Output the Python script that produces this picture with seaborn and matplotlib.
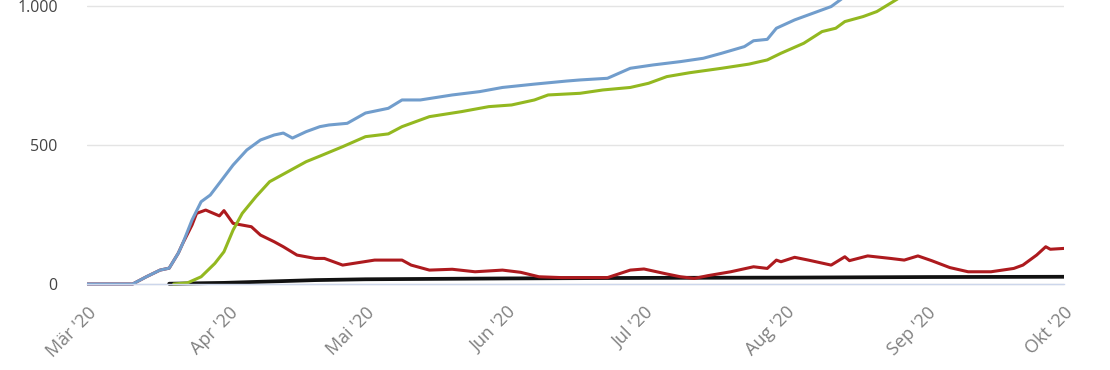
import pandas as pd
import matplotlib
matplotlib.use("Agg")
import matplotlib.pyplot as plt
import matplotlib.dates as mdates
from matplotlib.ticker import FuncFormatter
import seaborn as sns

# Werte (kumuliert, aktiv, genesen, verstorben)
faelle_datum = ["2020-03-01", "2020-03-11", "2020-03-14", "2020-03-17", "2020-03-19", "2020-03-21",
                "2020-03-22", "2020-03-24", "2020-03-26", "2020-03-28", "2020-03-30", "2020-04-02",
                "2020-04-05", "2020-04-08", "2020-04-11", "2020-04-13", "2020-04-15", "2020-04-18",
                "2020-04-21", "2020-04-23", "2020-04-27", "2020-05-01", "2020-05-06", "2020-05-09",
                "2020-05-13", "2020-05-20", "2020-05-26", "2020-05-31", "2020-06-07", "2020-06-14",
                "2020-06-17", "2020-06-23", "2020-06-28", "2020-07-03", "2020-07-09", "2020-07-14",
                "2020-07-18", "2020-07-23", "2020-07-25", "2020-07-28", "2020-07-30", "2020-08-03",
                "2020-08-08", "2020-08-11", "2020-08-13", "2020-08-16"]
faelle = [0, 0, 26, 50, 57, 111, 147, 230, 296, 320, 363, 428, 482, 518, 536, 543, 525, 548,
          566, 572, 578, 615, 632, 662, 662, 680, 692, 707, 719, 730, 734, 740, 776, 788, 800,
          812, 830, 854, 875, 880, 920, 950, 980, 998, 1022, 1060]

genesen_datum = ["2020-03-20", "2020-03-23", "2020-03-26", "2020-03-29", "2020-03-31", "2020-04-02",
                 "2020-04-04", "2020-04-07", "2020-04-10", "2020-04-14", "2020-04-18", "2020-04-21",
                 "2020-04-26", "2020-05-01", "2020-05-06", "2020-05-09", "2020-05-15", "2020-05-22",
                 "2020-05-28", "2020-06-02", "2020-06-07", "2020-06-10", "2020-06-17", "2020-06-22",
                 "2020-06-28", "2020-07-02", "2020-07-06", "2020-07-11", "2020-07-18", "2020-07-24",
                 "2020-07-28", "2020-07-31", "2020-08-05", "2020-08-09", "2020-08-12", "2020-08-14",
                 "2020-08-18", "2020-08-21", "2020-08-24", "2020-08-27"]
genesen = [0, 4, 26, 74, 116, 194, 254, 314, 368, 404, 440, 460, 494, 530, 540, 566, 602, 620,
           638, 644, 662, 680, 686, 698, 707, 722, 746, 760, 776, 791, 806, 830, 866, 908, 920,
           944, 962, 980, 1010, 1040]

aktiv_datum = ["2020-03-01", "2020-03-11", "2020-03-14", "2020-03-17", "2020-03-19", "2020-03-21",
               "2020-03-22", "2020-03-24", "2020-03-25", "2020-03-27", "2020-03-29", "2020-03-30",
               "2020-03-31", "2020-04-02", "2020-04-06", "2020-04-08", "2020-04-11", "2020-04-13",
               "2020-04-16", "2020-04-20", "2020-04-22", "2020-04-26", "2020-05-03", "2020-05-09",
               "2020-05-11", "2020-05-15", "2020-05-20", "2020-05-25", "2020-05-31", "2020-06-04",
               "2020-06-08", "2020-06-13", "2020-06-23", "2020-06-28", "2020-07-01", "2020-07-06",
               "2020-07-09", "2020-07-12", "2020-07-15", "2020-07-20", "2020-07-25", "2020-07-28",
               "2020-07-30", "2020-07-31", "2020-08-03", "2020-08-06", "2020-08-11", "2020-08-14",
               "2020-08-15", "2020-08-19", "2020-08-24", "2020-08-27", "2020-08-30", "2020-09-02",
               "2020-09-06", "2020-09-10", "2020-09-15", "2020-09-20", "2020-09-22", "2020-09-25",
               "2020-09-27", "2020-09-28", "2020-10-01"]
aktiv = [0, 0, 26, 50, 57, 111, 147, 212, 254, 266, 252, 245, 264, 218, 206, 176, 152, 134,
         104, 92, 92, 68, 86, 86, 68, 50, 53, 44, 50, 42, 26, 23, 23, 50, 54, 36, 26, 20, 30,
         44, 62, 56, 86, 80, 96, 86, 68, 98, 84, 101, 92, 86, 101, 84, 59, 44, 44, 56, 68, 104,
         134, 125, 128]

tote_datum = ["2020-03-19", "2020-03-31", "2020-04-10", "2020-04-20", "2020-05-01", "2020-06-01",
              "2020-07-01", "2020-08-01", "2020-09-01", "2020-10-01"]
tote = [1, 4, 9, 14, 17, 20, 22, 23, 25, 26]

monate = ["Jan", "Feb", "Mär", "Apr", "Mai", "Jun", "Jul", "Aug", "Sep", "Okt", "Nov", "Dez"]

df_faelle = pd.DataFrame({"Datum": pd.to_datetime(faelle_datum), "Wert": faelle})
df_genesen = pd.DataFrame({"Datum": pd.to_datetime(genesen_datum), "Wert": genesen})
df_aktiv = pd.DataFrame({"Datum": pd.to_datetime(aktiv_datum), "Wert": aktiv})
df_tote = pd.DataFrame({"Datum": pd.to_datetime(tote_datum), "Wert": tote})

sns.set_theme(style="white")
plt.rcParams['font.family'] = ['Open Sans', 'DejaVu Sans']

fig = plt.figure(figsize=(11.1, 3.7), dpi=100)
ax = fig.add_axes([87 / 1110, 84 / 370, 977 / 1110, 286 / 370])

sns.lineplot(x="Datum", y="Wert", data=df_tote, color="#111111", linewidth=2.7, ax=ax)
sns.lineplot(x="Datum", y="Wert", data=df_aktiv, color="#ad1a1e", linewidth=2.2, ax=ax)
sns.lineplot(x="Datum", y="Wert", data=df_genesen, color="#93b820", linewidth=2.2, ax=ax)
sns.lineplot(x="Datum", y="Wert", data=df_faelle, color="#719dcc", linewidth=2.2, ax=ax)

ax.set_xlim(pd.Timestamp("2020-03-01"), pd.Timestamp("2020-10-01"))
ax.set_ylim(-7.2, 1021.6)
ax.set_yticks([0, 500, 1000])
ax.yaxis.set_major_formatter(FuncFormatter(lambda v, p: f"{int(v):,}".replace(",", ".")))
ax.grid(axis="y", color="#e4e4e4", linewidth=1)
ax.set_xlabel("")
ax.set_ylabel("")

ax.xaxis.set_major_locator(mdates.MonthLocator())
ax.xaxis.set_major_formatter(FuncFormatter(
    lambda v, p: f"{monate[mdates.num2date(v).month - 1]} '{mdates.num2date(v).strftime('%y')}"))

for s in ["top", "right", "left"]:
    ax.spines[s].set_visible(False)
ax.spines["bottom"].set_position(("data", 0))
ax.spines["bottom"].set_color("#ccd6eb")
ax.spines["bottom"].set_linewidth(1)

ax.tick_params(axis="y", length=0, pad=21, labelsize=11.5, labelcolor="#444444")
ax.tick_params(axis="x", length=8, width=1, color="#ccd6eb", direction="out", pad=6,
               labelsize=13, labelcolor="#808080")
for lbl in ax.get_xticklabels():
    lbl.set_rotation(45)
    lbl.set_ha("right")
    lbl.set_va("top")
    lbl.set_rotation_mode("anchor")

fig.savefig("out.png", dpi=100)
